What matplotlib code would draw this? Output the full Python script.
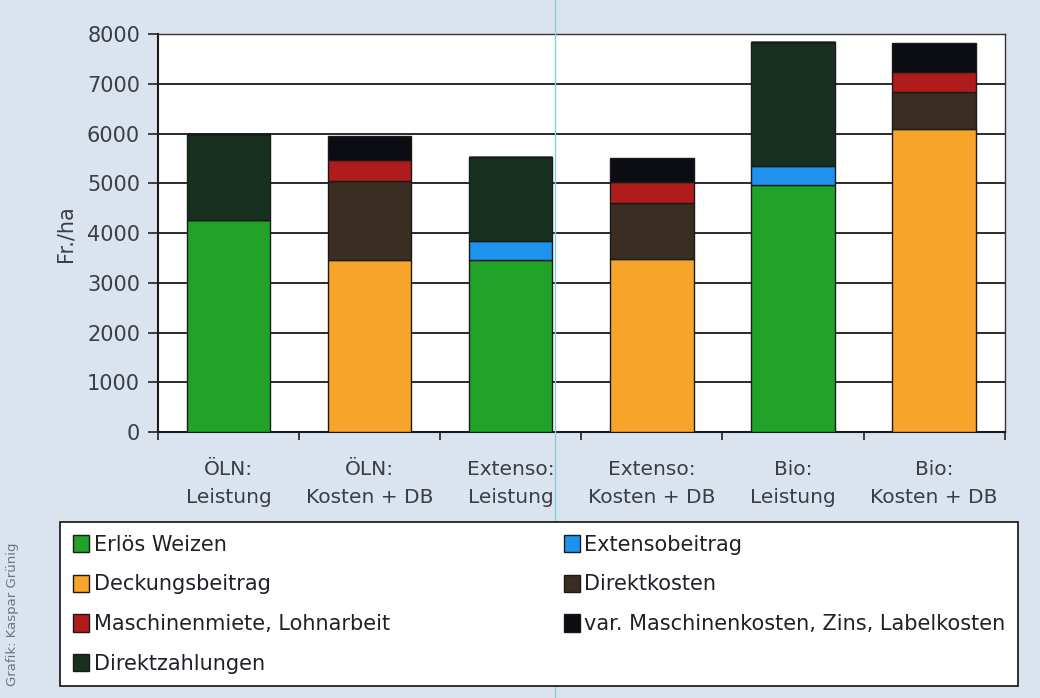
import numpy as np
import matplotlib
matplotlib.use("Agg")
import matplotlib.pyplot as plt
from matplotlib.lines import Line2D

# categories (x axis)
kategorien = ["ÖLN:\nLeistung", "ÖLN:\nKosten + DB", "Extenso:\nLeistung",
              "Extenso:\nKosten + DB", "Bio:\nLeistung", "Bio:\nKosten + DB"]

# series values in Fr./ha
erloes_weizen = [4270, 0, 3450, 0, 4960, 0]
extensobeitrag = [0, 0, 400, 0, 390, 0]
direktzahlungen = [1730, 0, 1680, 0, 2500, 0]
deckungsbeitrag = [0, 3450, 0, 3480, 0, 6090]
direktkosten = [0, 1600, 0, 1130, 0, 740]
maschinenmiete = [0, 420, 0, 410, 0, 420]
var_kosten = [0, 490, 0, 500, 0, 580]

yticks = [0, 1000, 2000, 3000, 4000, 5000, 6000, 7000, 8000]

bg = "#dae3ee"
txt = "#3a3f46"

# stacking order bottom -> top, with colours
serien = [
    ("Erlös Weizen", erloes_weizen, "#21a229"),
    ("Extensobeitrag", extensobeitrag, "#1e93ee"),
    ("Direktzahlungen", direktzahlungen, "#17301f"),
    ("Deckungsbeitrag", deckungsbeitrag, "#f6a42a"),
    ("Direktkosten", direktkosten, "#3a2d22"),
    ("Maschinenmiete, Lohnarbeit", maschinenmiete, "#b01b1b"),
    ("var. Maschinenkosten, Zins, Labelkosten", var_kosten, "#0b0d12"),
]

fig = plt.figure(figsize=(10.4, 6.98), dpi=100, facecolor=bg)
ax = fig.add_axes([0.152, 0.381, 0.814, 0.570])
ax.set_facecolor("white")

x = np.arange(len(kategorien))
unten = np.zeros(len(kategorien))
handles = {}
for name, werte, farbe in serien:
    werte = np.array(werte, dtype=float)
    b = ax.bar(x, werte, bottom=unten, width=0.59, color=farbe,
               edgecolor="#1a1a1a", linewidth=1.0, zorder=3, label=name)
    handles[name] = b
    unten += werte

ax.set_xlim(-0.5, len(kategorien) - 0.5)
ax.set_ylim(0, 8000)
ax.set_yticks(yticks)
ax.set_yticklabels([str(v) for v in yticks], fontsize=15, color=txt)
ax.yaxis.grid(True, color="#2a2a2a", linewidth=1.4, zorder=1)

# category labels centred, tick marks at the boundaries
ax.set_xticks(x)
ax.set_xticklabels(kategorien, fontsize=14.5, color=txt, linespacing=1.6)
ax.tick_params(axis="x", length=0, pad=20)
ax.set_xticks(np.arange(len(kategorien) + 1) - 0.5, minor=True)
ax.tick_params(axis="x", which="minor", length=6, width=1.2, color="#222222")
ax.tick_params(axis="y", length=7, width=1.2, color="#222222", pad=6)

for s in ["left", "bottom"]:
    ax.spines[s].set_color("#1a1a1a")
    ax.spines[s].set_linewidth(1.5)
for s in ["top", "right"]:
    ax.spines[s].set_color("#333333")
    ax.spines[s].set_linewidth(1.0)

ax.set_ylabel("Fr./ha", fontsize=15, color=txt, labelpad=8)

# legend, two columns, box below the plot
reihenfolge = ["Erlös Weizen", "Deckungsbeitrag", "Maschinenmiete, Lohnarbeit",
               "Direktzahlungen", "Extensobeitrag", "Direktkosten",
               "var. Maschinenkosten, Zins, Labelkosten"]
leg = fig.legend([handles[n] for n in reihenfolge], reihenfolge, ncol=2,
                 loc="upper left", bbox_to_anchor=(0.058, 0.252, 0.921, 0.0),
                 mode="expand", frameon=True, fancybox=False, borderaxespad=0,
                 edgecolor="#222222", facecolor="white", framealpha=1,
                 prop={"family": "DejaVu Sans", "size": 15},
                 handlelength=0.8, handleheight=0.9, handletextpad=0.2,
                 labelspacing=0.95, borderpad=0.6, columnspacing=1.0)
leg.get_frame().set_linewidth(1.3)
for t in leg.get_texts():
    t.set_color("#1e2228")

fig.text(0.012, 0.12, "Grafik: Kaspar Grünig", rotation=90, fontsize=9.5,
         color="#6d7680", ha="center", va="center")

# thin cyan scan line through the page
fig.add_artist(Line2D([0.534, 0.534], [0, 1], transform=fig.transFigure,
                      color="#7fd4dc", linewidth=1.0))

fig.savefig("out.png", dpi=100, facecolor=bg)
